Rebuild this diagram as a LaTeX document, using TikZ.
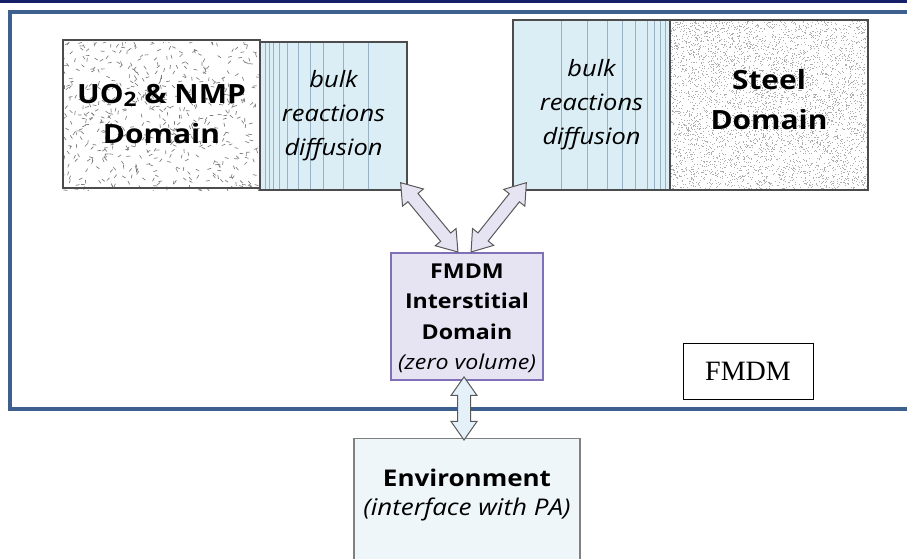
\documentclass[tikz,border=0pt]{standalone}
\usepackage{fontspec}
\setmainfont{Open Sans}[FakeStretch=1.13]
\newfontfamily\seriflabel{Liberation Serif}
\usepackage{tikz}
\usetikzlibrary{calc,shapes.arrows}
\definecolor{framebar}{RGB}{61,96,142}
\definecolor{topbar}{RGB}{22,32,104}
\definecolor{bulkfill}{RGB}{219,238,245}
\definecolor{bulkrule}{RGB}{150,178,196}
\definecolor{interfill}{RGB}{230,228,243}
\definecolor{interedge}{RGB}{128,112,184}
\definecolor{envfill}{RGB}{238,246,250}
\definecolor{linkfill}{RGB}{229,241,248}
\definecolor{speck}{RGB}{120,120,120}

% fat hollow two-headed arrow between two points
\newcommand\fatlink[3][]{%
  \path let \p1=($(#3)-(#2)$), \n1={atan2(\y1,\x1)}, \n2={veclen(\x1,\y1)} in
    node[fatarrow, #1, rotate=\n1, minimum height=\n2] at ($(#2)!0.5!(#3)$) {};}

\begin{document}
\begin{tikzpicture}[x=1pt, y=-1pt,
    domainbox/.style={draw=black!70, line width=1.2pt, inner sep=0pt, align=center,
      font=\fontsize{26.5}{40}\selectfont\bfseries},
    bulkbox/.style={domainbox, fill=bulkfill, font=\fontsize{22.5}{34}\selectfont\itshape},
    rules/.style={path picture={
      \foreach \u in {#1}
        \draw[bulkrule, line width=0.6pt]
          ($(path picture bounding box.north west)+(\u,0)$) -- ++(0,200);}},
    fatarrow/.style={double arrow, draw=black!65, line width=1pt,
      inner xsep=0pt, inner ysep=6pt, double arrow head extend=7,
      double arrow tip angle=70, fill=interfill}]
  \useasboundingbox (0,0) rectangle (907,558);

  \draw[topbar, line width=3] (0,1) -- (907,1);
  \draw[framebar, line width=4.5] (10,12) rectangle (930,409);

  % textures under the two domains
  \begin{scope}
    \clip (63,42) rectangle (260,190);
    \pgfmathsetseed{11}
    \foreach \k in {1,...,600}
      \draw[speck, line width=0.65pt] (60+202*rnd,38+156*rnd) -- ++(360*rnd:3.8);
  \end{scope}
  \begin{scope}
    \clip (670,20) rectangle (868,190);
    \pgfmathsetseed{5}
    \foreach \k in {1,...,4600}
      \fill[speck!60] (670+198*rnd,20+170*rnd) rectangle ++(1,1);
  \end{scope}

  % domains
  \node[domainbox, minimum width=197, minimum height=148] (uo2) at (161.5,114)
    {UO\raisebox{-3pt}{\fontsize{20}{20}\selectfont 2} \& NMP\\Domain};
  \node[bulkbox, rules={5,9,13,19,27,38,50,63,83,108},
    minimum width=147, minimum height=148] (lbulk) at (333.5,116)
    {bulk\\reactions\\diffusion};
  \node[bulkbox, rules={48,74,94,109,122,134,141,147,152}, text depth=6pt,
    minimum width=157, minimum height=170] (rbulk) at (591.5,105)
    {bulk\\reactions\\diffusion};
  \node[domainbox, text depth=12pt, minimum width=198, minimum height=170] (steel)
    at (769,105) {Steel\\Domain};

  \node[domainbox, draw=interedge, line width=1.8pt, fill=interfill,
    font=\fontsize{20.5}{30.5}\selectfont\bfseries, text depth=-11pt,
    minimum width=152, minimum height=127] (inter) at (467,316.5)
    {FMDM\\Interstitial\\Domain\\{\mdseries\itshape (zero volume)}};

  \node[draw=black!50, line width=1.2pt, fill=envfill, anchor=north,
    minimum width=226, minimum height=150] (env) at (467,438) {};
  \node[align=center, font=\fontsize{23}{29}\selectfont] (envtxt) at (467,495)
    {{\bfseries Environment}\\{\itshape (interface with PA)}};

  \node[draw=black, line width=1pt, font=\seriflabel\fontsize{28}{30}\selectfont,
    minimum width=130, minimum height=56] (fmdm) at (748,371) {FMDM};

  % links
  \coordinate (l1) at ($(lbulk.south east)+(-7,-8)$);
  \coordinate (l2) at ($(inter.north)+(-9,0)$);
  \coordinate (r1) at ($(rbulk.south west)+(14,-8)$);
  \coordinate (r2) at ($(inter.north)+(4,0)$);
  \coordinate (v1) at ($(inter.south)+(-3,-4)$);
  \coordinate (v2) at ($(env.north)+(-3,2)$);
  \fatlink{l1}{l2}
  \fatlink{r1}{r2}
  \fatlink[fill=linkfill, double arrow head extend=6.5]{v1}{v2}
\end{tikzpicture}
\end{document}
